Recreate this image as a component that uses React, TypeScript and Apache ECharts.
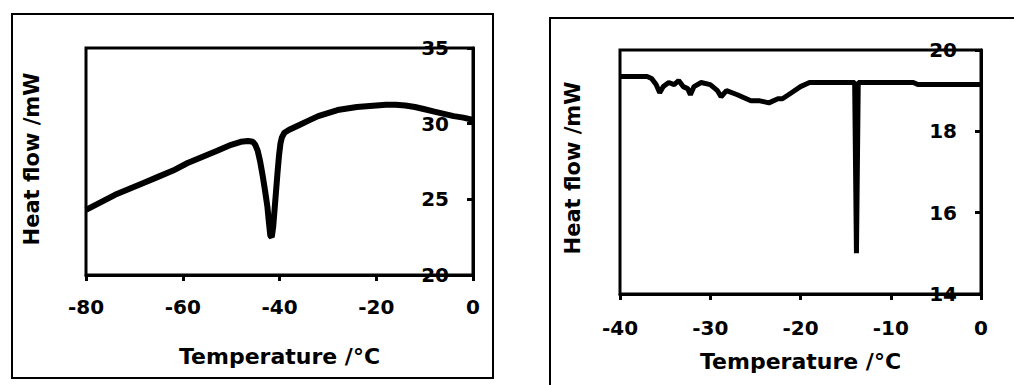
import React, { useEffect, useRef } from "react";
import * as echarts from "echarts";

// Left panel: Temperature (°C) vs heat flow (mW)
const leftTemp = [-80, -77, -74, -71, -68, -65, -62, -59, -56, -53, -50, -48, -46.5, -45.5, -45, -44.5, -44, -43.5, -43, -42.5, -42.2, -41.9, -41.6, -41.3, -41, -40.7, -40.4, -40.1, -39.8, -39.5, -39, -38, -36, -34, -32, -30, -28, -26, -24, -22, -20, -18, -16, -14, -12, -10, -8, -6, -4, -2, 0];
const leftFlow = [24.3, 24.8, 25.3, 25.7, 26.1, 26.5, 26.9, 27.4, 27.8, 28.2, 28.6, 28.8, 28.85, 28.8, 28.6, 28.2, 27.5, 26.6, 25.6, 24.5, 23.5, 22.6, 22.5, 23.2, 24.4, 25.6, 26.8, 27.9, 28.7, 29.1, 29.4, 29.6, 29.9, 30.2, 30.5, 30.7, 30.9, 31.0, 31.1, 31.15, 31.2, 31.25, 31.25, 31.2, 31.1, 30.95, 30.8, 30.65, 30.5, 30.4, 30.25];
const leftXTicks = [-80, -60, -40, -20, 0];
const leftYTicks = [20, 25, 30, 35];

// Right panel
const rightTemp = [-40, -37, -36.5, -36, -35.6, -35.2, -34.6, -34, -33.5, -33, -32.5, -32.2, -31.8, -31, -30, -29.2, -28.8, -28.2, -27, -26, -25.5, -24.5, -23.5, -22.5, -22, -21, -20, -19, -14, -13.8, -13.6, -7.5, -7, 0];
const rightFlow = [19.35, 19.35, 19.3, 19.15, 18.95, 19.1, 19.2, 19.15, 19.25, 19.1, 19.05, 18.9, 19.1, 19.2, 19.15, 19.0, 18.85, 19.0, 18.9, 18.8, 18.75, 18.75, 18.7, 18.8, 18.8, 18.95, 19.1, 19.2, 19.2, 15.0, 19.2, 19.2, 19.15, 19.15];
const rightXTicks = [-40, -30, -20, -10, 0];
const rightYTicks = [14, 16, 18, 20];

const xTitle = "Temperature /°C";
const yTitle = "Heat flow /mW";

const FONT = "DejaVu Sans";

export default function App() {
  const ref = useRef<HTMLDivElement>(null);
  useEffect(() => {
    if (!ref.current) return;
    const chart = echarts.init(ref.current, null, { renderer: "svg" });
    const labelStyle = { color: "#000", fontFamily: FONT, fontWeight: "bold" as const, fontSize: 20 };
    const makeX = (idx: number, ticks: number[], nameGap: number, margin: number) => ({
      type: "value" as const,
      gridIndex: idx,
      min: ticks[0],
      max: ticks[ticks.length - 1],
      interval: ticks[1] - ticks[0],
      name: xTitle,
      nameLocation: "middle" as const,
      nameGap,
      nameTextStyle: { color: "#000", fontFamily: FONT, fontWeight: "bold" as const, fontSize: 22 },
      axisLine: { show: true, lineStyle: { color: "#000", width: 3 } },
      axisTick: { show: true, length: 6, lineStyle: { color: "#000", width: 3 } },
      axisLabel: { ...labelStyle, margin, formatter: (v: number) => String(v) },
      splitLine: { show: false },
    });
    const makeY = (idx: number, ticks: number[]) => ({
      type: "value" as const,
      gridIndex: idx,
      position: "right" as const,
      min: ticks[0],
      max: ticks[ticks.length - 1],
      interval: ticks[1] - ticks[0],
      axisLine: { show: true, lineStyle: { color: "#000", width: 3 } },
      axisTick: { show: true, inside: true, length: 6, lineStyle: { color: "#000", width: 3 } },
      axisLabel: { ...labelStyle, inside: true, margin: 24 },
      splitLine: { show: false },
    });
    chart.setOption({
      animation: false,
      backgroundColor: "#fff",
      grid: [
        { left: 86, top: 48, width: 387, height: 227, show: true, borderColor: "#000", borderWidth: 3, backgroundColor: "transparent" },
        { left: 620, top: 50, width: 361, height: 244, show: true, borderColor: "#000", borderWidth: 3, backgroundColor: "transparent" },
      ],
      xAxis: [makeX(0, leftXTicks, 70, 22), makeX(1, rightXTicks, 56, 24)],
      yAxis: [makeY(0, leftYTicks), makeY(1, rightYTicks)],
      graphic: [
        { type: "rect", shape: { x: 12, y: 14, width: 481, height: 364 }, style: { fill: "none", stroke: "#000", lineWidth: 2 }, z: 0 },
        { type: "rect", shape: { x: 550, y: 18, width: 480, height: 380 }, style: { fill: "none", stroke: "#000", lineWidth: 2 }, z: 0 },
        {
          type: "text", x: 32, y: 159, rotation: Math.PI / 2,
          style: { text: yTitle, fill: "#000", font: `bold 21px "${FONT}"`, textAlign: "center", textVerticalAlign: "middle" },
        },
        {
          type: "text", x: 573, y: 168, rotation: Math.PI / 2,
          style: { text: yTitle, fill: "#000", font: `bold 21px "${FONT}"`, textAlign: "center", textVerticalAlign: "middle" },
        },
      ],
      series: [
        {
          type: "line", xAxisIndex: 0, yAxisIndex: 0,
          data: leftTemp.map((t, i) => [t, leftFlow[i]]),
          showSymbol: false, lineStyle: { color: "#000", width: 6 }, itemStyle: { color: "#000" },
        },
        {
          type: "line", xAxisIndex: 1, yAxisIndex: 1,
          data: rightTemp.map((t, i) => [t, rightFlow[i]]),
          showSymbol: false, lineStyle: { color: "#000", width: 5 }, itemStyle: { color: "#000" },
        },
      ],
    });
    return () => chart.dispose();
  }, []);
  return <div ref={ref} style={{ position: "fixed", left: 0, top: 0, width: 1014, height: 385 }} />;
}
